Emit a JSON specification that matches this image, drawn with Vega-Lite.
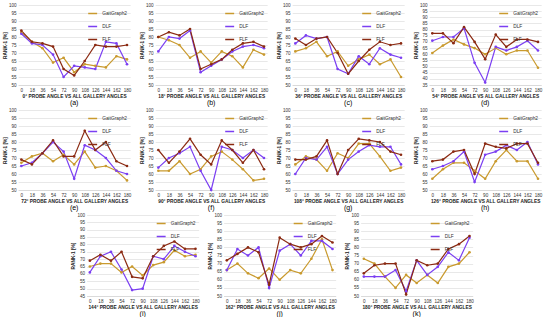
{
"$schema":"https://vega.github.io/schema/vega-lite/v6.json",
"padding":{"left":2,"top":2,"right":2,"bottom":0},
"data":{"values":[
{"p":"a","x":0,"GaitGraph2":83,"DLF":82,"FLF":84},{"p":"a","x":18,"GaitGraph2":77,"DLF":76,"FLF":77},{"p":"a","x":36,"GaitGraph2":73,"DLF":75,"FLF":76},{"p":"a","x":54,"GaitGraph2":64,"DLF":69,"FLF":74},{"p":"a","x":72,"GaitGraph2":67,"DLF":55,"FLF":60},{"p":"a","x":90,"GaitGraph2":58,"DLF":62,"FLF":56},{"p":"a","x":108,"GaitGraph2":63,"DLF":61,"FLF":65},{"p":"a","x":126,"GaitGraph2":62,"DLF":60,"FLF":75},{"p":"a","x":144,"GaitGraph2":61,"DLF":77,"FLF":74},{"p":"a","x":162,"GaitGraph2":68,"DLF":76,"FLF":74},{"p":"a","x":180,"GaitGraph2":66,"DLF":63,"FLF":75},
{"p":"b","x":0,"GaitGraph2":80,"DLF":71,"FLF":80},{"p":"b","x":18,"GaitGraph2":78,"DLF":80,"FLF":83},{"p":"b","x":36,"GaitGraph2":75,"DLF":79,"FLF":81},{"p":"b","x":54,"GaitGraph2":67,"DLF":84,"FLF":85},{"p":"b","x":72,"GaitGraph2":71,"DLF":58,"FLF":60},{"p":"b","x":90,"GaitGraph2":64,"DLF":62,"FLF":63},{"p":"b","x":108,"GaitGraph2":71,"DLF":66,"FLF":66},{"p":"b","x":126,"GaitGraph2":68,"DLF":71,"FLF":72},{"p":"b","x":144,"GaitGraph2":61,"DLF":74,"FLF":76},{"p":"b","x":162,"GaitGraph2":72,"DLF":75,"FLF":77},{"p":"b","x":180,"GaitGraph2":69,"DLF":73,"FLF":74},
{"p":"c","x":0,"GaitGraph2":71,"DLF":76,"FLF":79},{"p":"c","x":18,"GaitGraph2":73,"DLF":81,"FLF":75},{"p":"c","x":36,"GaitGraph2":77,"DLF":79,"FLF":79},{"p":"c","x":54,"GaitGraph2":68,"DLF":80,"FLF":80},{"p":"c","x":72,"GaitGraph2":71,"DLF":60,"FLF":70},{"p":"c","x":90,"GaitGraph2":62,"DLF":57,"FLF":57},{"p":"c","x":108,"GaitGraph2":66,"DLF":68,"FLF":65},{"p":"c","x":126,"GaitGraph2":69,"DLF":63,"FLF":72},{"p":"c","x":144,"GaitGraph2":63,"DLF":73,"FLF":77},{"p":"c","x":162,"GaitGraph2":66,"DLF":69,"FLF":75},{"p":"c","x":180,"GaitGraph2":55,"DLF":67,"FLF":76},
{"p":"d","x":0,"GaitGraph2":61,"DLF":71,"FLF":77},{"p":"d","x":18,"GaitGraph2":67,"DLF":74,"FLF":77},{"p":"d","x":36,"GaitGraph2":72,"DLF":74,"FLF":69},{"p":"d","x":54,"GaitGraph2":68,"DLF":81,"FLF":82},{"p":"d","x":72,"GaitGraph2":65,"DLF":53,"FLF":70},{"p":"d","x":90,"GaitGraph2":60,"DLF":37,"FLF":56},{"p":"d","x":108,"GaitGraph2":65,"DLF":66,"FLF":76},{"p":"d","x":126,"GaitGraph2":60,"DLF":63,"FLF":66},{"p":"d","x":144,"GaitGraph2":63,"DLF":66,"FLF":72},{"p":"d","x":162,"GaitGraph2":63,"DLF":71,"FLF":72},{"p":"d","x":180,"GaitGraph2":49,"DLF":63,"FLF":70},
{"p":"e","x":0,"GaitGraph2":67,"DLF":65,"FLF":69},{"p":"e","x":18,"GaitGraph2":71,"DLF":67,"FLF":66},{"p":"e","x":36,"GaitGraph2":73,"DLF":73,"FLF":73},{"p":"e","x":54,"GaitGraph2":68,"DLF":80,"FLF":81},{"p":"e","x":72,"GaitGraph2":72,"DLF":74,"FLF":71},{"p":"e","x":90,"GaitGraph2":66,"DLF":57,"FLF":71},{"p":"e","x":108,"GaitGraph2":74,"DLF":78,"FLF":87},{"p":"e","x":126,"GaitGraph2":64,"DLF":75,"FLF":75},{"p":"e","x":144,"GaitGraph2":65,"DLF":70,"FLF":80},{"p":"e","x":162,"GaitGraph2":62,"DLF":62,"FLF":68},{"p":"e","x":180,"GaitGraph2":56,"DLF":60,"FLF":65},
{"p":"f","x":0,"GaitGraph2":62,"DLF":64,"FLF":75},{"p":"f","x":18,"GaitGraph2":62,"DLF":70,"FLF":67},{"p":"f","x":36,"GaitGraph2":68,"DLF":73,"FLF":74},{"p":"f","x":54,"GaitGraph2":60,"DLF":77,"FLF":82},{"p":"f","x":72,"GaitGraph2":63,"DLF":62,"FLF":72},{"p":"f","x":90,"GaitGraph2":71,"DLF":50,"FLF":66},{"p":"f","x":108,"GaitGraph2":74,"DLF":77,"FLF":81},{"p":"f","x":126,"GaitGraph2":69,"DLF":75,"FLF":75},{"p":"f","x":144,"GaitGraph2":63,"DLF":70,"FLF":67},{"p":"f","x":162,"GaitGraph2":56,"DLF":75,"FLF":75},{"p":"f","x":180,"GaitGraph2":57,"DLF":70,"FLF":63},
{"p":"g","x":0,"GaitGraph2":66,"DLF":60,"FLF":69},{"p":"g","x":18,"GaitGraph2":71,"DLF":70,"FLF":69},{"p":"g","x":36,"GaitGraph2":69,"DLF":69,"FLF":71},{"p":"g","x":54,"GaitGraph2":62,"DLF":77,"FLF":81},{"p":"g","x":72,"GaitGraph2":73,"DLF":60,"FLF":60},{"p":"g","x":90,"GaitGraph2":70,"DLF":69,"FLF":75},{"p":"g","x":108,"GaitGraph2":79,"DLF":74,"FLF":82},{"p":"g","x":126,"GaitGraph2":79,"DLF":78,"FLF":81},{"p":"g","x":144,"GaitGraph2":71,"DLF":77,"FLF":80},{"p":"g","x":162,"GaitGraph2":62,"DLF":77,"FLF":74},{"p":"g","x":180,"GaitGraph2":64,"DLF":66,"FLF":72},
{"p":"h","x":0,"GaitGraph2":57,"DLF":63,"FLF":68},{"p":"h","x":18,"GaitGraph2":63,"DLF":65,"FLF":69},{"p":"h","x":36,"GaitGraph2":67,"DLF":68,"FLF":74},{"p":"h","x":54,"GaitGraph2":67,"DLF":74,"FLF":75},{"p":"h","x":72,"GaitGraph2":62,"DLF":55,"FLF":60},{"p":"h","x":90,"GaitGraph2":57,"DLF":72,"FLF":79},{"p":"h","x":108,"GaitGraph2":68,"DLF":74,"FLF":77},{"p":"h","x":126,"GaitGraph2":75,"DLF":78,"FLF":76},{"p":"h","x":144,"GaitGraph2":68,"DLF":75,"FLF":79},{"p":"h","x":162,"GaitGraph2":68,"DLF":80,"FLF":79},{"p":"h","x":180,"GaitGraph2":57,"DLF":66,"FLF":67},
{"p":"i","x":0,"GaitGraph2":65,"DLF":61,"FLF":69},{"p":"i","x":18,"GaitGraph2":67,"DLF":72,"FLF":73},{"p":"i","x":36,"GaitGraph2":67,"DLF":75,"FLF":69},{"p":"i","x":54,"GaitGraph2":61,"DLF":63,"FLF":75},{"p":"i","x":72,"GaitGraph2":65,"DLF":49,"FLF":58},{"p":"i","x":90,"GaitGraph2":59,"DLF":50,"FLF":57},{"p":"i","x":108,"GaitGraph2":66,"DLF":72,"FLF":72},{"p":"i","x":126,"GaitGraph2":68,"DLF":70,"FLF":79},{"p":"i","x":144,"GaitGraph2":76,"DLF":79,"FLF":82},{"p":"i","x":162,"GaitGraph2":72,"DLF":75,"FLF":77},{"p":"i","x":180,"GaitGraph2":73,"DLF":72,"FLF":77},
{"p":"j","x":0,"GaitGraph2":66,"DLF":66,"FLF":72},{"p":"j","x":18,"GaitGraph2":70,"DLF":79,"FLF":76},{"p":"j","x":36,"GaitGraph2":64,"DLF":75,"FLF":80},{"p":"j","x":54,"GaitGraph2":61,"DLF":80,"FLF":77},{"p":"j","x":72,"GaitGraph2":67,"DLF":55,"FLF":57},{"p":"j","x":90,"GaitGraph2":60,"DLF":78,"FLF":86},{"p":"j","x":108,"GaitGraph2":66,"DLF":82,"FLF":82},{"p":"j","x":126,"GaitGraph2":64,"DLF":75,"FLF":80},{"p":"j","x":144,"GaitGraph2":73,"DLF":84,"FLF":82},{"p":"j","x":162,"GaitGraph2":85,"DLF":84,"FLF":87},{"p":"j","x":180,"GaitGraph2":66,"DLF":79,"FLF":83},
{"p":"k","x":0,"GaitGraph2":73,"DLF":62,"FLF":64},{"p":"k","x":18,"GaitGraph2":70,"DLF":62,"FLF":69},{"p":"k","x":36,"GaitGraph2":62,"DLF":62,"FLF":70},{"p":"k","x":54,"GaitGraph2":55,"DLF":66,"FLF":70},{"p":"k","x":72,"GaitGraph2":63,"DLF":53,"FLF":51},{"p":"k","x":90,"GaitGraph2":58,"DLF":72,"FLF":72},{"p":"k","x":108,"GaitGraph2":63,"DLF":63,"FLF":69},{"p":"k","x":126,"GaitGraph2":58,"DLF":68,"FLF":70},{"p":"k","x":144,"GaitGraph2":68,"DLF":77,"FLF":79},{"p":"k","x":162,"GaitGraph2":70,"DLF":72,"FLF":82},{"p":"k","x":180,"GaitGraph2":77,"DLF":86,"FLF":87}
]},
"config":{
"font":"Liberation Sans",
"view":{"stroke":null},
"scale":{"pointPadding":0.3},
"axis":{"labelFontSize":4.6,"titleFontSize":4.8,"titleFontWeight":"bold","labelFontWeight":"normal","labelColor":"#333","titleColor":"#222","tickSize":0,"labelPadding":2,"titlePadding":1.5,"gridColor":"#d9d9d9","gridWidth":0.6},
"axisX":{"grid":false,"domainColor":"#d0d0d0","domainWidth":0.6,"labelAngle":0},
"axisY":{"domain":false},
"title":{"orient":"bottom","fontSize":7,"fontWeight":"normal","offset":1,"color":"#000"},
"legend":{"orient":"top-right","title":null,"labelFontSize":4.8,"symbolType":"stroke","symbolSize":80,"symbolStrokeWidth":1.5,"rowPadding":4,"offset":3,"labelColor":"#333","padding":0}
},
"center":true,
"spacing":1,
"resolve":{"scale":{"color":"independent"},"legend":{"color":"independent"}},
"vconcat":[
{"hconcat":[
{"width":112,"height":80,"title":{"text":"(a)"},"transform":[{"filter":"datum.p=='a'"},{"fold":["GaitGraph2","DLF","FLF"],"as":["m","r"]}],"mark":{"type":"line","strokeWidth":1.2,"point":{"filled":true,"size":7}},"encoding":{"x":{"field":"x","type":"ordinal","axis":{"title":"0° PROBE ANGLE VS ALL GALLERY ANGLES"}},"y":{"field":"r","type":"quantitative","scale":{"domain":[50,100]},"axis":{"title":"RANK-1 [%]","values":[50,55,60,65,70,75,80,85,90,95,100]}},"color":{"field":"m","type":"nominal","scale":{"domain":["GaitGraph2","DLF","FLF"],"range":["#C99A2E","#7B3FF2","#8B2A12"]}}}},
{"width":112,"height":80,"title":{"text":"(b)"},"transform":[{"filter":"datum.p=='b'"},{"fold":["GaitGraph2","DLF","FLF"],"as":["m","r"]}],"mark":{"type":"line","strokeWidth":1.2,"point":{"filled":true,"size":7}},"encoding":{"x":{"field":"x","type":"ordinal","axis":{"title":"18° PROBE ANGLE VS ALL GALLERY ANGLES"}},"y":{"field":"r","type":"quantitative","scale":{"domain":[50,100]},"axis":{"title":"RANK-1 [%]","values":[50,55,60,65,70,75,80,85,90,95,100]}},"color":{"field":"m","type":"nominal","scale":{"domain":["GaitGraph2","DLF","FLF"],"range":["#C99A2E","#7B3FF2","#8B2A12"]}}}},
{"width":112,"height":80,"title":{"text":"(c)"},"transform":[{"filter":"datum.p=='c'"},{"fold":["GaitGraph2","DLF","FLF"],"as":["m","r"]}],"mark":{"type":"line","strokeWidth":1.2,"point":{"filled":true,"size":7}},"encoding":{"x":{"field":"x","type":"ordinal","axis":{"title":"36° PROBE ANGLE VS ALL GALLERY ANGLES"}},"y":{"field":"r","type":"quantitative","scale":{"domain":[50,100]},"axis":{"title":"RANK-1 [%]","values":[50,55,60,65,70,75,80,85,90,95,100]}},"color":{"field":"m","type":"nominal","scale":{"domain":["GaitGraph2","DLF","FLF"],"range":["#C99A2E","#7B3FF2","#8B2A12"]}}}},
{"width":112,"height":80,"title":{"text":"(d)"},"transform":[{"filter":"datum.p=='d'"},{"fold":["GaitGraph2","DLF","FLF"],"as":["m","r"]}],"mark":{"type":"line","strokeWidth":1.2,"point":{"filled":true,"size":7}},"encoding":{"x":{"field":"x","type":"ordinal","axis":{"title":"54° PROBE ANGLE VS ALL GALLERY ANGLES"}},"y":{"field":"r","type":"quantitative","scale":{"domain":[35,100]},"axis":{"title":"RANK-1 [%]","values":[35,40,45,50,55,60,65,70,75,80,85,90,95,100]}},"color":{"field":"m","type":"nominal","scale":{"domain":["GaitGraph2","DLF","FLF"],"range":["#C99A2E","#7B3FF2","#8B2A12"]}}}}
],"spacing":7,"resolve":{"scale":{"color":"independent"},"legend":{"color":"independent"}}},
{"hconcat":[
{"width":112,"height":80,"title":{"text":"(e)"},"transform":[{"filter":"datum.p=='e'"},{"fold":["GaitGraph2","DLF","FLF"],"as":["m","r"]}],"mark":{"type":"line","strokeWidth":1.2,"point":{"filled":true,"size":7}},"encoding":{"x":{"field":"x","type":"ordinal","axis":{"title":"72° PROBE ANGLE VS ALL GALLERY ANGLES"}},"y":{"field":"r","type":"quantitative","scale":{"domain":[50,100]},"axis":{"title":"RANK-1 [%]","values":[50,55,60,65,70,75,80,85,90,95,100]}},"color":{"field":"m","type":"nominal","scale":{"domain":["GaitGraph2","DLF","FLF"],"range":["#C99A2E","#7B3FF2","#8B2A12"]}}}},
{"width":112,"height":80,"title":{"text":"(f)"},"transform":[{"filter":"datum.p=='f'"},{"fold":["GaitGraph2","DLF","FLF"],"as":["m","r"]}],"mark":{"type":"line","strokeWidth":1.2,"point":{"filled":true,"size":7}},"encoding":{"x":{"field":"x","type":"ordinal","axis":{"title":"90° PROBE ANGLE VS ALL GALLERY ANGLES"}},"y":{"field":"r","type":"quantitative","scale":{"domain":[50,100]},"axis":{"title":"RANK-1 [%]","values":[50,55,60,65,70,75,80,85,90,95,100]}},"color":{"field":"m","type":"nominal","scale":{"domain":["GaitGraph2","DLF","FLF"],"range":["#C99A2E","#7B3FF2","#8B2A12"]}}}},
{"width":112,"height":80,"title":{"text":"(g)"},"transform":[{"filter":"datum.p=='g'"},{"fold":["GaitGraph2","DLF","FLF"],"as":["m","r"]}],"mark":{"type":"line","strokeWidth":1.2,"point":{"filled":true,"size":7}},"encoding":{"x":{"field":"x","type":"ordinal","axis":{"title":"108° PROBE ANGLE VS ALL GALLERY ANGLES"}},"y":{"field":"r","type":"quantitative","scale":{"domain":[50,100]},"axis":{"title":"RANK-1 [%]","values":[50,55,60,65,70,75,80,85,90,95,100]}},"color":{"field":"m","type":"nominal","scale":{"domain":["GaitGraph2","DLF","FLF"],"range":["#C99A2E","#7B3FF2","#8B2A12"]}}}},
{"width":112,"height":80,"title":{"text":"(h)"},"transform":[{"filter":"datum.p=='h'"},{"fold":["GaitGraph2","DLF","FLF"],"as":["m","r"]}],"mark":{"type":"line","strokeWidth":1.2,"point":{"filled":true,"size":7}},"encoding":{"x":{"field":"x","type":"ordinal","axis":{"title":"126° PROBE ANGLE VS ALL GALLERY ANGLES"}},"y":{"field":"r","type":"quantitative","scale":{"domain":[50,100]},"axis":{"title":"RANK-1 [%]","values":[50,55,60,65,70,75,80,85,90,95,100]}},"color":{"field":"m","type":"nominal","scale":{"domain":["GaitGraph2","DLF","FLF"],"range":["#C99A2E","#7B3FF2","#8B2A12"]}}}}
],"spacing":7,"resolve":{"scale":{"color":"independent"},"legend":{"color":"independent"}}},
{"hconcat":[
{"width":112,"height":81,"title":{"text":"(i)"},"transform":[{"filter":"datum.p=='i'"},{"fold":["GaitGraph2","DLF","FLF"],"as":["m","r"]}],"mark":{"type":"line","strokeWidth":1.2,"point":{"filled":true,"size":7}},"encoding":{"x":{"field":"x","type":"ordinal","axis":{"title":"144° PROBE ANGLE VS ALL GALLERY ANGLES"}},"y":{"field":"r","type":"quantitative","scale":{"domain":[45,100]},"axis":{"title":"RANK-1 [%]","values":[45,50,55,60,65,70,75,80,85,90,95,100]}},"color":{"field":"m","type":"nominal","scale":{"domain":["GaitGraph2","DLF","FLF"],"range":["#C99A2E","#7B3FF2","#8B2A12"]}}}},
{"width":112,"height":81,"title":{"text":"(j)"},"transform":[{"filter":"datum.p=='j'"},{"fold":["GaitGraph2","DLF","FLF"],"as":["m","r"]}],"mark":{"type":"line","strokeWidth":1.2,"point":{"filled":true,"size":7}},"encoding":{"x":{"field":"x","type":"ordinal","axis":{"title":"162° PROBE ANGLE VS ALL GALLERY ANGLES"}},"y":{"field":"r","type":"quantitative","scale":{"domain":[50,100]},"axis":{"title":"RANK-1 [%]","values":[50,55,60,65,70,75,80,85,90,95,100]}},"color":{"field":"m","type":"nominal","scale":{"domain":["GaitGraph2","DLF","FLF"],"range":["#C99A2E","#7B3FF2","#8B2A12"]}}}},
{"width":112,"height":81,"title":{"text":"(k)"},"transform":[{"filter":"datum.p=='k'"},{"fold":["GaitGraph2","DLF","FLF"],"as":["m","r"]}],"mark":{"type":"line","strokeWidth":1.2,"point":{"filled":true,"size":7}},"encoding":{"x":{"field":"x","type":"ordinal","axis":{"title":"180° PROBE ANGLE VS ALL GALLERY ANGLES"}},"y":{"field":"r","type":"quantitative","scale":{"domain":[50,100]},"axis":{"title":"RANK-1 [%]","values":[50,55,60,65,70,75,80,85,90,95,100]}},"color":{"field":"m","type":"nominal","scale":{"domain":["GaitGraph2","DLF","FLF"],"range":["#C99A2E","#7B3FF2","#8B2A12"]}}}}
],"spacing":7,"resolve":{"scale":{"color":"independent"},"legend":{"color":"independent"}}}
]
}
